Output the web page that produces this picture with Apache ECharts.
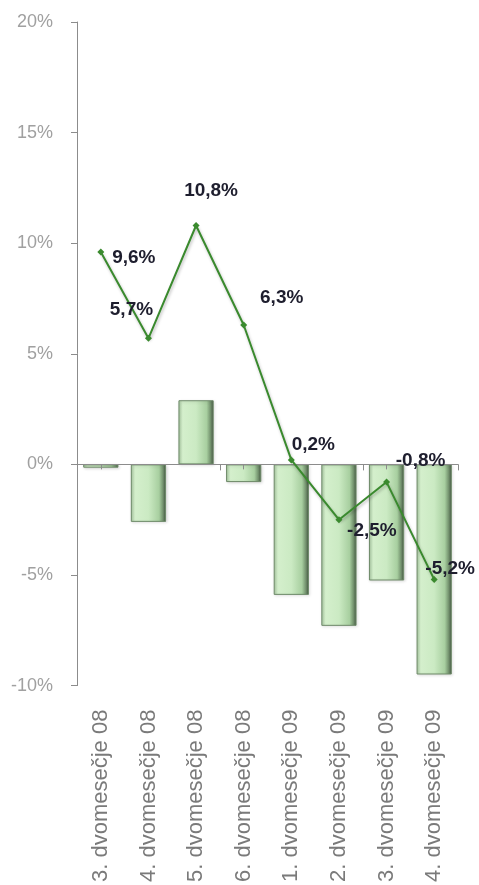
<!DOCTYPE html>
<html>
<head>
<meta charset="utf-8">
<script src="https://cdn.jsdelivr.net/npm/echarts@6/dist/echarts.min.js"></script>
<style>
html,body{margin:0;padding:0;background:#fff;}
#chart{width:479px;height:885px;}
</style>
</head>
<body>
<div id="chart"></div>
<script>
const categories = ['3. dvomesečje 08','4. dvomesečje 08','5. dvomesečje 08','6. dvomesečje 08','1. dvomesečje 09','2. dvomesečje 09','3. dvomesečje 09','4. dvomesečje 09'];
const barValues = [-0.15, -2.6, 2.9, -0.8, -5.9, -7.3, -5.25, -9.5];
const lineValues = [9.6, 5.7, 10.8, 6.3, 0.2, -2.5, -0.8, -5.2];
const yTicks = { min: -10, max: 20, interval: 5 };
const labelOffsets = [[33,6],[-17,-29],[15,-35],[38,-27],[22,-15],[33,11],[34,-21],[16,-11]];

const fmt = v => (v.toFixed(1).replace('.', ',')) + '%';

const chart = echarts.init(document.getElementById('chart'));
chart.setOption({
  animation: false,
  backgroundColor: '#ffffff',
  grid: { left: 77, right: 21, top: 22, bottom: 199 },
  xAxis: [
    {
      type: 'category',
      data: categories,
      position: 'bottom',
      axisLine: { show: false, onZero: false },
      axisTick: { show: false },
      axisLabel: { rotate: 90, fontSize: 22, color: '#7a7a7a', fontFamily: 'Liberation Sans, Arial', margin: 24 }
    },
    {
      type: 'category',
      data: categories,
      position: 'bottom',
      z: 3,
      axisLine: { show: true, onZero: true, onZeroAxisIndex: 0, lineStyle: { color: '#8c8c8c', width: 1 } },
      axisTick: { show: true, length: 6, inside: false, lineStyle: { color: '#8c8c8c' } },
      axisLabel: { show: false }
    },
    {
      type: 'category',
      data: categories,
      position: 'bottom',
      z: 3,
      axisLine: { show: true, onZero: true, onZeroAxisIndex: 0, lineStyle: { color: 'rgba(0,0,0,0)', width: 0 } },
      axisTick: { show: true, alignWithLabel: true, length: 5, lineStyle: { color: '#8c8c8c' } },
      axisLabel: { show: false }
    }
  ],
  yAxis: {
    type: 'value',
    min: yTicks.min, max: yTicks.max, interval: yTicks.interval,
    axisLine: { show: true, lineStyle: { color: '#8c8c8c' } },
    axisTick: { show: true, length: 6, lineStyle: { color: '#8c8c8c' } },
    splitLine: { show: false },
    axisLabel: { formatter: v => v + '%', fontSize: 18, color: '#a0a0a0', fontFamily: 'Liberation Sans, Arial', margin: 24 }
  },
  series: [
    {
      type: 'bar',
      xAxisIndex: 1,
      data: barValues,
      barCategoryGap: '26%',
      itemStyle: {
        color: new echarts.graphic.LinearGradient(0, 0, 1, 0, [
          { offset: 0, color: '#a9c9a2' },
          { offset: 0.12, color: '#d4efcc' },
          { offset: 0.5, color: '#cbeac3' },
          { offset: 0.8, color: '#a8cfa0' },
          { offset: 0.92, color: '#6f8d6a' },
          { offset: 1, color: '#3f4f3d' }
        ]),
        borderColor: '#6e8a69',
        borderWidth: 1,
        shadowColor: 'rgba(0,0,0,0.15)',
        shadowBlur: 3,
        shadowOffsetX: 1,
        shadowOffsetY: 1
      }
    },
    {
      type: 'line',
      xAxisIndex: 1,
      data: lineValues.map((v, i) => ({
        value: v,
        label: { offset: labelOffsets[i] }
      })),
      symbol: 'diamond',
      symbolSize: 7,
      itemStyle: { color: '#3a8a2e' },
      lineStyle: { color: '#3a8a2e', width: 2, shadowColor: 'rgba(0,0,0,0.25)', shadowBlur: 3, shadowOffsetX: 1, shadowOffsetY: 2 },
      label: {
        show: true,
        position: 'inside',
        align: 'center',
        verticalAlign: 'middle',
        formatter: p => fmt(p.value),
        fontSize: 19,
        fontWeight: 'bold',
        color: '#1e1e2e',
        fontFamily: 'Liberation Sans, Arial'
      },
      z: 5
    }
  ]
});
</script>
</body>
</html>
